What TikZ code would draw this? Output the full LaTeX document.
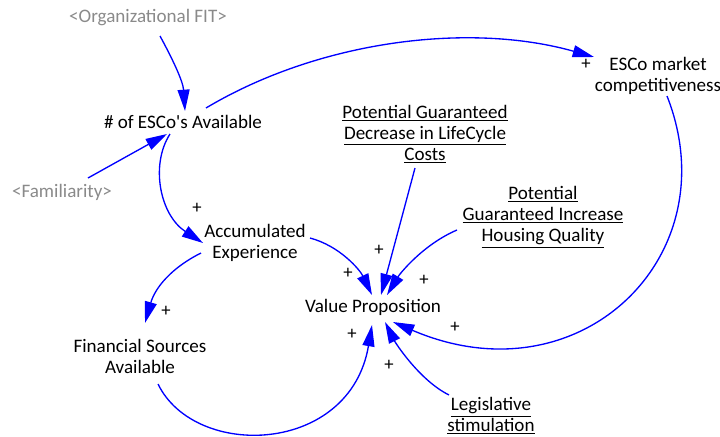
\documentclass[tikz,border=0pt]{standalone}
\usepackage{fontspec}
\setmainfont{Carlito}
\usepackage{tikz}
\usetikzlibrary{arrows.meta,calc}
\definecolor{LinkBlue}{HTML}{0000FF}
\definecolor{ShadowGray}{HTML}{8A8A8A}

\begin{document}
\begin{tikzpicture}[x=0.75pt,y=-0.75pt,
  var/.style={align=center,inner sep=0pt,font=\fontsize{14.3}{15.75}\selectfont},
  shadow/.style={var,text=ShadowGray},
  sign/.style={inner sep=0pt,font=\fontsize{14}{16}\selectfont},
  link/.style={-{Triangle[length=16pt,width=9pt]},draw=LinkBlue,line width=1pt}
]
\useasboundingbox (0,0) rectangle (720,436);
% variables
\node[shadow] (fit) at (148,18) {<Organizational FIT>};
\node[var] (esco) at (183,122) {\# of ESCo\textquotesingle s Available};
\node[shadow] (fam) at (62,192) {<Familiarity>};
\node[var] (market) at (658,76) {ESCo market\\competitiveness};
\node[var] (lcc) at (425,134) {\underline{Potential Guaranteed}\\\underline{Decrease in LifeCycle}\\\underline{Costs}};
\node[var] (hq) at (543,217) {\underline{Potential}\\\underline{Guaranteed Increase}\\\underline{Housing Quality}};
\node[var] (acc) at (255,243) {Accumulated\\Experience};
\node[var] (vp) at (373,307) {Value Proposition};
\node[var] (fin) at (140,356) {Financial Sources\\Available};
\node[var] (leg) at (491,416) {\underline{Legislative}\\\underline{stimulation}};
% links
\draw[link] ($(fit)+(12,18)$) .. controls +(12,22) and +(-2,-30) .. ($(esco)+(2,-11)$);
\draw[link] ($(fam)+(26,-14)$) -- ($(esco)+(-16,12)$);
\draw[link] ($(esco)+(23,-14)$) .. controls +(114,-68) and +(-124,-35) .. ($(market)+(-64,-19)$);
\draw[link] ($(esco)+(-13,12)$) .. controls +(-20,31) and +(-43,-28) .. ($(acc)+(-52,0)$);
\draw[link] ($(acc)+(-54,10)$) .. controls +(-30,15) and +(10,-35) .. ($(fin)+(5,-33)$);
\draw[link] ($(acc)+(55,-5)$) .. controls +(30,8) and +(-12,-25) .. ($(vp)+(-1,-12)$);
\draw[link] ($(lcc)+(-10,34)$) -- ($(vp)+(8,-12)$);
\draw[link] ($(hq)+(-86,13)$) .. controls +(-35,15) and +(12,-20) .. ($(vp)+(14,-12)$);
\draw[link] ($(market)+(9,20)$) .. controls +(63,160) and +(187,80) .. ($(vp)+(20,15)$);
\draw[link] ($(fin)+(18,28)$) .. controls +(37,76) and +(-22,130) .. ($(vp)+(-1,18)$);
\draw[link] ($(leg)+(-42,-21)$) .. controls +(-30,-15) and +(10,20) .. ($(vp)+(12,15)$);
% polarities
\node[sign] (s1) at (586,64) {+};
\node[sign] (s2) at (197,208) {+};
\node[sign] (s3) at (166,311) {+};
\node[sign] (s4) at (348,273) {+};
\node[sign] (s5) at (379,250) {+};
\node[sign] (s6) at (424,280) {+};
\node[sign] (s7) at (455,327) {+};
\node[sign] (s8) at (352,334) {+};
\node[sign] (s9) at (389,365) {+};
\end{tikzpicture}
\end{document}
